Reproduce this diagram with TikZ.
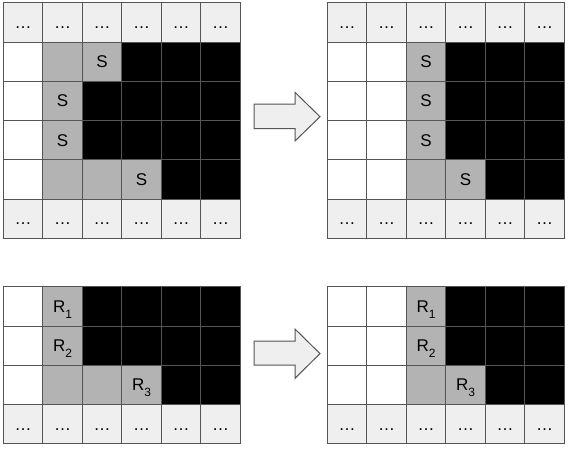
\documentclass[tikz,border=0pt]{standalone}
\usepackage{fontspec}
\setmainfont{Liberation Sans}
\definecolor{gridline}{HTML}{555555}
\definecolor{edgecell}{HTML}{EFEFEF}
\definecolor{seedcell}{HTML}{B3B3B3}
\tikzset{
  cell/.style={draw=gridline,line width=1pt,minimum width=39.5pt,minimum height=39.3pt,inner sep=0pt,text height=12pt,text depth=0pt,font=\fontsize{17}{20}\selectfont},
  ec/.style={cell,fill=edgecell},
  wc/.style={cell,fill=white},
  gc/.style={cell,fill=seedcell},
  bc/.style={cell,fill=black},
  bigarr/.style={draw=gridline,line width=1pt,fill=edgecell,line join=miter},
}
\newcommand{\ddd}{…}
\newcommand{\rsub}[1]{R\raisebox{-6pt}{\fontsize{12}{13}\selectfont #1}}
% one row of a grid: name, row, left x, top y, cells
\newcommand{\cellrow}[5]{%
  \foreach \st/\lb [count=\col from 0] in {#5}
    \node[\st] (#1-#2-\col) at ({#3+(\col+0.5)*39.5},{#4+(#2+0.5)*39.3}) {\lb};
}
\begin{document}
\begin{tikzpicture}[x=1pt,y=-1pt]
\useasboundingbox (0,0) rectangle (569,450);
% top left
\cellrow{tl}{0}{3.3}{2.7}{ec/\ddd,ec/\ddd,ec/\ddd,ec/\ddd,ec/\ddd,ec/\ddd}
\cellrow{tl}{1}{3.3}{2.7}{wc/,gc/,gc/S,bc/,bc/,bc/}
\cellrow{tl}{2}{3.3}{2.7}{wc/,gc/S,bc/,bc/,bc/,bc/}
\cellrow{tl}{3}{3.3}{2.7}{wc/,gc/S,bc/,bc/,bc/,bc/}
\cellrow{tl}{4}{3.3}{2.7}{wc/,gc/,gc/,gc/S,bc/,bc/}
\cellrow{tl}{5}{3.3}{2.7}{ec/\ddd,ec/\ddd,ec/\ddd,ec/\ddd,ec/\ddd,ec/\ddd}
% top right
\cellrow{tr}{0}{327.3}{2.7}{ec/\ddd,ec/\ddd,ec/\ddd,ec/\ddd,ec/\ddd,ec/\ddd}
\cellrow{tr}{1}{327.3}{2.7}{wc/,wc/,gc/S,bc/,bc/,bc/}
\cellrow{tr}{2}{327.3}{2.7}{wc/,wc/,gc/S,bc/,bc/,bc/}
\cellrow{tr}{3}{327.3}{2.7}{wc/,wc/,gc/S,bc/,bc/,bc/}
\cellrow{tr}{4}{327.3}{2.7}{wc/,wc/,gc/,gc/S,bc/,bc/}
\cellrow{tr}{5}{327.3}{2.7}{ec/\ddd,ec/\ddd,ec/\ddd,ec/\ddd,ec/\ddd,ec/\ddd}
% bottom left
\cellrow{bl}{0}{3.3}{286.7}{wc/,gc/\rsub{1},bc/,bc/,bc/,bc/}
\cellrow{bl}{1}{3.3}{286.7}{wc/,gc/\rsub{2},bc/,bc/,bc/,bc/}
\cellrow{bl}{2}{3.3}{286.7}{wc/,gc/,gc/,gc/\rsub{3},bc/,bc/}
\cellrow{bl}{3}{3.3}{286.7}{ec/\ddd,ec/\ddd,ec/\ddd,ec/\ddd,ec/\ddd,ec/\ddd}
% bottom right
\cellrow{br}{0}{327.3}{286.7}{wc/,wc/,gc/\rsub{1},bc/,bc/,bc/}
\cellrow{br}{1}{327.3}{286.7}{wc/,wc/,gc/\rsub{2},bc/,bc/,bc/}
\cellrow{br}{2}{327.3}{286.7}{wc/,wc/,gc/,gc/\rsub{3},bc/,bc/}
\cellrow{br}{3}{327.3}{286.7}{ec/\ddd,ec/\ddd,ec/\ddd,ec/\ddd,ec/\ddd,ec/\ddd}
% block arrows
\draw[bigarr] (254,104) -- (295,104) -- (295,92.3) -- (320,116.7) -- (295,141) -- (295,128.7) -- (254,128.7) -- cycle;
\draw[bigarr] (254,341) -- (295,341) -- (295,329) -- (320,353.6) -- (295,378.3) -- (295,365) -- (254,365) -- cycle;
\end{tikzpicture}
\end{document}
